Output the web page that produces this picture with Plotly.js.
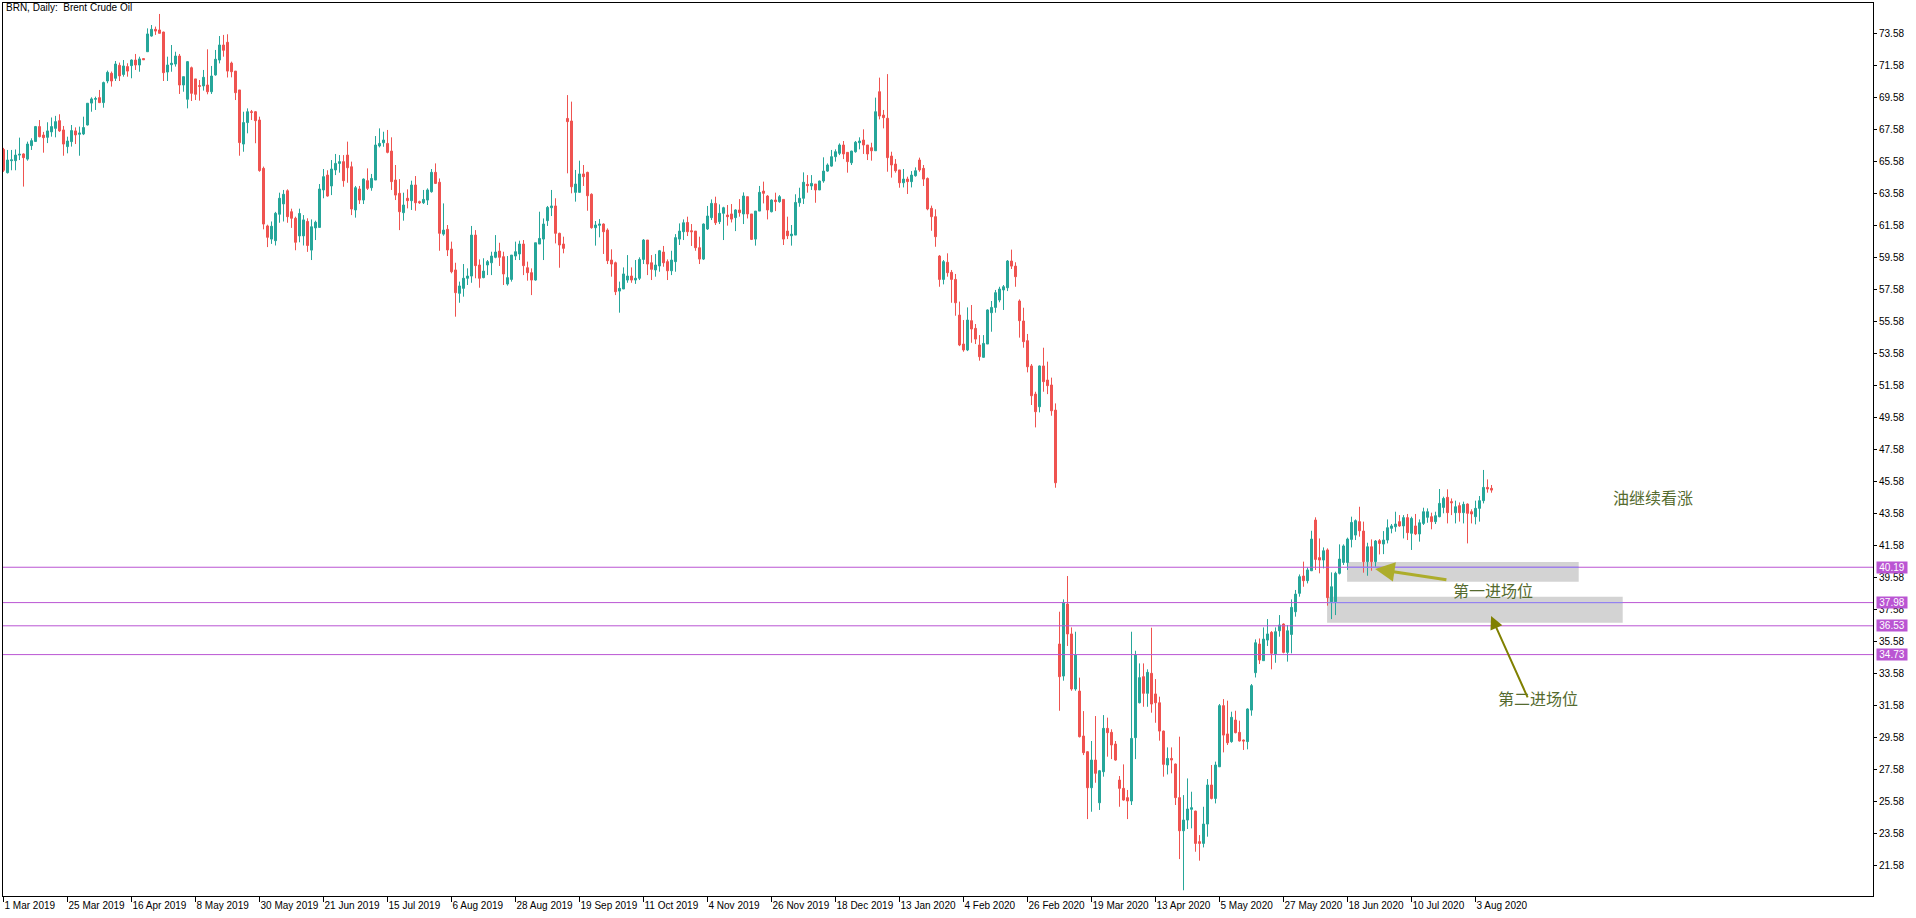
<!DOCTYPE html>
<html><head><meta charset="utf-8">
<script src="https://cdn.plot.ly/plotly-3.0.1.min.js"></script>
<style>html,body{margin:0;padding:0;background:#fff;overflow:hidden}#chart{width:1916px;height:918px}</style>
</head><body><div id="chart"></div>
<script>
// Daily bars, Mar 2019 - Aug 2020 (one entry per trading day)
const opens = [
66.3,64.85,65.6,65.6,65.95,66.02,65.7,66.54,66.8,67.73,
67.2,67.06,67.4,67.62,68.1,67.52,66.48,66.79,67.46,67.25,
67.27,67.83,69.2,69.44,69.54,69.23,70.58,71.06,70.75,71.56,
70.99,71.48,71.54,71.89,71.58,71.98,72.41,73.39,73.81,73.77,
73.64,71.14,71.6,71.64,72.14,70.33,69.44,71.41,70.71,70.29,
70.27,70.33,69.91,70.96,71.89,72.83,73.0,71.7,71.2,70.02,
66.64,67.98,68.66,68.66,68.14,65.12,61.52,60.7,60.6,62.25,
62.9,63.72,62.41,62.0,60.9,60.9,61.8,60.01,61.4,61.43,
63.77,64.7,64.02,65.02,65.43,65.54,65.95,65.22,62.52,63.83,
63.14,64.35,63.91,64.39,66.52,66.72,66.68,66.2,64.39,63.56,
62.35,63.25,63.1,64.08,63.04,62.97,63.14,63.66,64.87,64.25,
61.01,61.31,60.08,58.77,57.31,57.62,58.25,58.39,60.95,59.08,
58.29,59.08,59.22,59.56,59.95,59.6,57.89,58.18,59.64,59.77,
60.39,58.91,58.6,58.14,60.39,60.7,61.85,62.66,62.77,61.06,
60.39,68.24,68.08,63.62,63.62,64.77,64.87,63.5,61.41,61.56,
61.64,61.26,59.39,59.22,57.45,57.58,58.14,58.39,58.14,58.25,
59.43,60.64,59.22,58.77,59.02,59.89,59.29,58.72,59.29,60.7,
61.16,61.74,61.22,61.2,60.16,59.45,61.33,62.04,62.93,61.79,
62.31,62.2,62.27,62.04,62.52,62.27,63.35,62.27,60.7,62.45,
63.7,63.39,62.41,63.14,63.04,63.18,61.2,60.91,60.95,62.97,
63.25,64.12,64.02,64.14,63.77,64.33,64.95,65.26,65.85,66.06,
66.58,66.12,65.47,66.16,66.72,66.89,66.58,66.41,66.22,69.91,
68.45,68.25,65.89,65.39,65.02,64.22,64.45,64.29,64.66,65.64,
65.12,64.49,62.62,62.1,59.64,58.18,59.25,58.62,58.18,55.95,
54.14,53.77,55.6,55.12,54.08,53.31,54.14,56.1,56.43,56.89,
57.52,57.66,59.33,59.01,56.83,55.58,54.35,52.77,51.01,50.22,
52.77,51.89,51.58,50.01,35.39,33.39,37.89,36.02,32.58,32.45,
29.64,28.66,26.41,28.14,25.47,27.41,30.12,29.87,29.14,26.89,
26.37,25.79,25.58,29.54,31.72,33.35,32.31,33.56,32.27,31.72,
29.95,27.83,28.24,27.89,25.79,23.72,24.39,25.06,24.95,23.04,
22.93,24.14,26.58,25.74,27.72,31.54,29.77,29.29,30.64,29.87,
29.39,29.29,31.26,33.6,35.39,34.35,35.64,36.12,34.77,36.22,
36.64,34.87,35.99,37.41,38.56,39.64,39.35,39.97,43.14,40.79,
40.64,41.27,38.04,38.04,39.81,40.49,40.49,41.93,42.2,43.04,
42.45,40.54,41.47,40.54,41.85,41.64,41.89,42.62,42.72,43.04,
42.77,43.29,42.31,42.77,42.27,42.93,43.31,43.35,43.04,43.35,
43.93,44.56,44.29,43.6,44.04,43.6,44.14,43.66,43.35,43.87,
44.35,45.18,45.12];
const highs = [
66.4,66.27,66.27,66.3,67.04,66.06,66.79,67.0,67.77,68.14,
67.4,68.0,68.3,68.4,68.5,67.77,67.1,67.83,67.68,67.73,
68.35,69.2,69.56,69.6,70.02,70.54,71.23,71.17,71.83,71.73,
71.89,71.69,71.93,72.27,72.1,72.0,73.87,74.08,73.98,74.77,
73.66,72.1,72.83,72.41,72.27,70.85,71.83,71.48,70.71,70.64,
71.27,72.56,71.52,72.52,73.39,73.46,73.5,71.79,71.2,70.02,
68.66,68.87,68.77,68.7,68.35,65.23,61.6,61.8,62.4,63.6,
63.77,63.81,62.6,62.1,62.6,62.2,62.0,61.93,61.85,64.14,
65.08,65.0,65.64,66.02,65.95,65.95,66.79,65.54,64.02,64.02,
64.49,65.12,64.77,67.14,67.62,67.41,67.52,67.06,65.33,64.45,
63.6,63.81,64.35,64.64,63.1,63.77,63.87,65.08,65.43,64.49,
62.93,61.58,60.54,59.22,58.04,59.14,58.87,61.52,61.26,59.43,
59.5,59.39,59.91,60.95,60.47,59.91,59.64,59.7,60.54,60.6,
60.64,59.29,58.87,60.47,62.41,61.99,62.77,63.77,63.25,61.1,
60.85,69.7,69.29,65.02,65.6,65.33,64.91,63.56,61.83,61.95,
61.68,61.37,60.06,59.29,58.04,58.93,59.7,58.93,59.39,59.56,
60.7,60.64,59.7,59.77,60.02,60.27,59.43,59.97,61.01,61.68,
61.93,62.1,61.64,61.2,60.85,61.68,62.77,63.18,63.35,62.87,
62.72,62.83,62.89,62.56,63.2,63.62,63.35,62.27,62.45,64.02,
64.29,63.45,63.18,63.6,63.45,63.18,62.1,61.58,63.5,63.91,
64.87,64.7,64.7,64.14,64.35,65.81,65.43,66.27,66.31,66.68,
66.83,66.12,66.22,66.83,67.06,67.56,66.58,66.72,69.54,70.79,
68.77,71.01,66.16,65.7,65.02,65.08,64.6,64.95,65.18,65.79,
65.33,64.55,62.79,62.56,59.7,59.39,59.81,58.77,58.52,56.79,
55.64,56.43,56.58,55.39,54.7,54.7,56.31,56.83,57.52,57.72,
57.83,59.39,60.04,59.25,56.93,56.41,54.77,52.89,51.16,52.8,
53.91,53.04,52.04,50.43,37.41,38.18,39.64,36.43,36.16,33.29,
31.2,28.7,29.33,30.89,27.52,30.95,30.79,30.06,29.33,27.14,
27.87,26.27,36.16,34.97,34.18,34.18,33.81,36.41,33.2,32.1,
29.98,28.93,28.93,27.92,29.6,25.95,26.99,26.16,24.97,23.45,
25.22,26.95,27.83,28.04,31.64,31.95,31.85,31.16,31.22,30.6,
29.42,31.37,32.89,35.68,35.74,36.43,36.95,36.2,36.43,37.2,
36.68,36.58,38.18,38.77,39.74,40.54,40.18,42.47,43.31,41.99,
41.43,41.37,39.87,39.91,41.62,41.62,42.04,43.35,43.18,43.97,
43.04,41.72,41.93,41.89,41.95,42.45,43.18,42.89,43.66,43.45,
43.45,43.52,43.35,43.52,43.18,43.91,43.87,43.6,43.66,45.08,
44.6,45.06,44.49,44.35,44.24,44.29,44.18,43.81,44.35,44.64,
46.27,45.68,45.33];
const lows = [
64.9,64.8,65.0,65.0,65.64,63.98,65.6,66.27,66.8,67.06,
66.1,66.7,67.1,67.06,67.4,65.91,66.06,66.48,66.64,65.91,
67.2,67.8,68.66,68.77,69.2,68.91,70.44,70.23,70.58,70.58,
70.85,70.85,70.75,71.27,71.16,71.9,72.4,73.35,73.46,73.56,
70.58,70.58,71.16,71.48,69.77,69.91,68.87,69.33,69.39,69.35,
69.98,69.75,69.77,70.91,71.68,72.1,70.8,70.81,69.39,65.91,
66.16,67.31,68.14,66.69,64.91,61.31,60.2,60.4,60.3,61.72,
61.8,61.72,61.4,60.0,60.5,60.3,59.9,59.39,60.64,61.43,
63.25,63.35,63.45,64.7,64.85,63.97,64.22,62.2,62.04,62.89,
62.89,63.77,63.72,64.39,66.43,66.47,66.06,63.77,63.14,61.26,
61.85,62.62,62.52,62.47,62.9,62.89,62.83,63.6,64.14,59.97,
60.91,59.64,58.56,55.85,56.72,57.1,57.83,57.97,58.25,57.66,
58.25,58.45,58.45,59.5,59.02,57.83,57.79,58.04,59.39,59.39,
58.45,58.1,57.2,58.1,60.39,59.39,61.52,62.14,60.43,58.91,
59.81,64.81,63.56,63.04,63.6,64.02,62.47,61.35,60.29,60.81,
59.77,59.14,58.35,57.2,56.1,57.58,57.97,57.97,57.9,58.14,
59.14,58.45,58.14,58.35,58.66,58.97,58.14,58.45,58.66,60.33,
60.64,60.89,60.27,59.97,59.14,59.39,61.27,61.89,61.58,61.64,
60.64,61.54,61.74,61.2,62.1,61.64,61.99,60.64,60.29,62.45,
62.93,61.93,62.37,62.45,62.97,60.33,60.7,60.29,60.95,62.72,
62.89,63.6,63.77,62.97,63.77,64.22,64.91,65.22,65.54,65.95,
65.7,64.85,65.33,66.1,66.31,66.02,65.64,65.6,66.22,68.18,
67.62,64.91,64.54,64.85,63.91,63.93,63.52,63.93,64.6,64.91,
64.02,62.5,61.22,60.22,57.72,57.87,58.35,56.72,55.91,54.01,
53.66,53.7,54.22,54.14,53.1,53.29,54.14,54.91,56.1,56.75,
56.27,57.45,58.83,57.72,54.54,53.91,52.37,50.33,48.93,49.87,
51.16,51.01,49.66,45.16,31.22,33.1,35.27,32.47,32.47,29.55,
28.45,24.45,24.91,26.72,25.02,27.1,28.35,28.2,28.1,25.22,
25.6,24.45,25.33,28.2,31.68,31.47,31.47,31.1,30.47,29.35,
27.1,27.24,27.31,25.33,21.95,20.0,23.83,23.87,22.41,21.85,
22.68,23.35,25.68,25.43,27.7,28.62,29.08,29.22,29.81,29.3,
28.77,28.81,30.91,33.3,34.14,34.35,35.27,33.81,34.22,35.85,
34.81,34.29,34.81,37.1,38.35,38.97,39.18,39.95,40.02,39.81,
40.12,37.79,36.95,37.2,39.74,40.33,40.02,41.43,41.89,42.1,
39.85,39.66,39.97,40.22,40.99,41.01,41.68,42.31,42.41,42.72,
41.99,41.89,41.27,42.2,41.79,42.83,42.97,42.56,42.89,43.31,
43.56,42.93,43.45,42.93,43.04,42.93,41.68,42.93,42.87,43.04,
44.18,44.85,44.85];
const closes = [
65.0,65.64,65.65,65.95,66.0,65.79,66.64,66.85,67.73,67.1,
67.04,67.46,67.73,68.04,67.46,66.64,66.83,67.48,67.21,67.33,
67.67,69.19,69.46,69.48,69.23,70.48,71.12,70.58,71.64,70.9,
71.52,71.2,71.89,71.58,71.96,71.91,73.52,73.81,73.7,73.56,
71.1,71.58,71.69,72.14,70.33,70.85,71.79,69.81,69.75,70.25,
70.81,69.91,70.89,71.94,72.83,72.5,71.2,71.16,69.85,66.73,
67.98,68.66,68.62,68.1,64.98,61.64,60.81,61.5,62.31,63.25,
63.5,62.1,62.0,60.5,62.3,61.9,60.3,61.47,61.75,63.83,
64.6,63.39,65.08,65.43,65.54,64.35,65.16,62.58,63.91,63.14,
64.45,63.87,64.49,66.58,66.68,66.89,66.12,64.29,63.45,62.41,
62.83,63.1,64.08,62.97,62.97,63.18,63.77,64.87,64.18,61.06,
61.26,60.02,58.66,57.35,57.77,58.25,58.39,60.95,59.04,58.25,
58.7,59.29,59.64,59.89,59.56,58.52,58.29,59.7,59.91,60.39,
59.04,58.6,58.14,60.47,60.74,61.64,62.68,62.77,61.06,60.33,
60.12,68.04,63.97,64.14,64.77,64.6,63.41,61.41,61.58,61.64,
61.16,59.35,59.14,57.41,57.62,58.52,58.39,58.14,58.25,59.43,
60.64,59.14,58.81,59.08,59.97,59.22,58.72,59.39,60.79,61.2,
61.72,61.16,61.16,60.16,59.45,61.64,62.14,62.93,61.72,62.31,
62.66,62.1,61.95,62.52,62.35,63.39,62.27,60.68,62.45,63.62,
63.56,62.52,63.14,63.04,63.35,60.7,60.91,61.01,62.99,63.25,
64.25,64.04,64.18,63.77,64.33,64.95,65.33,65.85,66.16,66.58,
66.02,65.54,66.2,66.75,66.83,66.58,66.02,66.22,68.66,68.39,
68.29,65.79,65.33,64.97,64.22,64.45,64.29,64.7,64.97,65.02,
64.45,62.58,62.1,60.85,58.18,59.29,58.6,58.18,56.72,54.08,
53.77,55.64,55.08,54.45,53.35,54.18,56.27,56.43,57.35,57.58,
57.72,59.33,59.01,58.35,55.6,54.29,52.72,50.91,49.91,52.77,
51.79,51.54,49.97,45.47,33.35,37.99,36.02,32.58,34.7,29.6,
28.6,26.41,28.14,27.31,27.47,30.12,29.85,29.08,28.14,26.37,
25.64,25.58,29.49,34.7,33.29,32.31,33.62,31.64,31.72,29.95,
27.87,28.24,28.14,25.79,23.72,24.39,25.08,25.16,22.93,22.93,
24.14,26.58,25.74,27.83,31.54,29.7,29.22,30.81,29.85,29.33,
29.33,31.33,32.79,35.47,34.39,35.7,36.02,34.81,36.16,36.58,
34.87,36.22,37.68,38.51,39.6,39.35,40.02,41.95,40.68,40.64,
41.22,38.29,38.97,39.81,40.7,41.52,41.95,42.99,43.1,42.47,
40.54,41.47,40.54,41.83,41.68,41.89,42.66,42.77,42.89,42.77,
43.29,42.35,43.24,42.27,42.97,43.66,43.66,43.04,43.41,44.18,
44.49,43.6,44.22,43.97,43.6,44.12,43.56,43.52,43.87,44.35,
45.18,45.08,45.01];

// date labels, one every 16 bars
const xTickLabels = ['1 Mar 2019','25 Mar 2019','16 Apr 2019','8 May 2019','30 May 2019','21 Jun 2019',
  '15 Jul 2019','6 Aug 2019','28 Aug 2019','19 Sep 2019','11 Oct 2019','4 Nov 2019','26 Nov 2019',
  '18 Dec 2019','13 Jan 2020','4 Feb 2020','26 Feb 2020','19 Mar 2020','13 Apr 2020','5 May 2020',
  '27 May 2020','18 Jun 2020','10 Jul 2020','3 Aug 2020'];
const yTickVals = [21.58,23.58,25.58,27.58,29.58,31.58,33.58,35.58,37.58,39.58,41.58,43.58,45.58,
  47.58,49.58,51.58,53.58,55.58,57.58,59.58,61.58,63.58,65.58,67.58,69.58,71.58,73.58];

// horizontal price levels
const levels = [40.19, 37.98, 36.53, 34.73];

// entry zones (bar index start/end, price low/high)
const zoneX0 = [335.9, 330.9];
const zoneX1 = [393.8, 404.8];
const zoneY0 = [39.28, 36.72];
const zoneY1 = [40.52, 38.35];

// notes
const noteText = ['油继续看涨', '第一进场位', '第二进场位'];
const noteX = [412.4, 372.4, 383.7];
const noteY = [44.58, 38.77, 32.02];
// arrows: head (x,y) and tail (ax,ay)
const arrowX = [342.9, 371.9];
const arrowY = [40.08, 37.14];
const arrowAX = [361.1, 381.2];
const arrowAY = [39.39, 31.96];

const LEVEL_COLOR = '#ba55d3';
const BASE_FONT = 'Liberation Sans, Arial, sans-serif';
const CJK_FONT = 'Noto Sans CJK SC, sans-serif';

const idx = closes.map((_, i) => i);
const xTickVals = xTickLabels.map((_, k) => k * 16);

const trace = {
  type: 'candlestick', x: idx, open: opens, high: highs, low: lows, close: closes,
  increasing: {line: {color: '#26a69a', width: 1}, fillcolor: '#26a69a'},
  decreasing: {line: {color: '#ef5350', width: 1}, fillcolor: '#ef5350'},
  whiskerwidth: 0, hoverinfo: 'skip', showlegend: false
};

const shapes = [];
for (let k = 0; k < zoneX0.length; k++) {
  shapes.push({type: 'rect', layer: 'below', xref: 'x', yref: 'y',
    x0: zoneX0[k], x1: zoneX1[k], y0: zoneY0[k], y1: zoneY1[k],
    fillcolor: '#d3d3d3', line: {width: 0}});
}
levels.forEach(v => shapes.push({type: 'line', xref: 'paper', x0: 0, x1: 1, yref: 'y', y0: v, y1: v,
  line: {color: LEVEL_COLOR, width: 1}}));
// level segments seen through the zones
shapes.push({type: 'line', xref: 'x', x0: zoneX0[0], x1: zoneX1[0], yref: 'y', y0: levels[0], y1: levels[0], line: {color: '#8f86f4', width: 1}});
shapes.push({type: 'line', xref: 'x', x0: zoneX0[1], x1: zoneX1[1], yref: 'y', y0: levels[1], y1: levels[1], line: {color: '#8f86f4', width: 1}});

const annotations = [];
levels.forEach(v => annotations.push({
  xref: 'paper', x: 1, xanchor: 'left', xshift: 3, yref: 'y', y: v, yanchor: 'middle',
  text: v.toFixed(2), showarrow: false, bgcolor: LEVEL_COLOR, borderpad: 0,
  width: 30, height: 11, align: 'center',
  font: {family: BASE_FONT, size: 10, color: '#ffffff'}
}));
noteText.forEach((t, k) => annotations.push({
  xref: 'x', yref: 'y', x: noteX[k], y: noteY[k], text: t, showarrow: false,
  font: {family: CJK_FONT, size: 16, color: '#556b2f'}
}));
const arrowColors = ['#adad2c', '#808000'];
const arrowWidths = [3, 2];
arrowX.forEach((x, k) => annotations.push({
  xref: 'x', yref: 'y', x: x, y: arrowY[k], axref: 'x', ayref: 'y', ax: arrowAX[k], ay: arrowAY[k],
  text: '', showarrow: true, arrowhead: 2, arrowsize: 1.3, arrowwidth: arrowWidths[k],
  arrowcolor: arrowColors[k], standoff: 0, startstandoff: 0
}));

const layout = {
  width: 1916, height: 918,
  margin: {l: 3, r: 43, t: 3, b: 22, pad: 0},
  paper_bgcolor: '#ffffff', plot_bgcolor: '#ffffff',
  showlegend: false, hovermode: false,
  boxgap: 0.5, boxgroupgap: 0,
  title: {text: 'BRN, Daily:\u00a0 Brent Crude Oil', xref: 'container', x: 6 / 1916, xanchor: 'left',
    yref: 'container', y: 1 - 4 / 918, yanchor: 'top', pad: {t: 0, b: 0, l: 0, r: 0},
    font: {family: BASE_FONT, size: 10, color: '#000000'}},
  xaxis: {type: 'linear', range: [-0.125, 467.375], rangeslider: {visible: false},
    showgrid: false, zeroline: false, showline: true, mirror: true, linecolor: '#000', linewidth: 1,
    ticks: 'outside', ticklen: 5, tickwidth: 1, tickcolor: '#000', tickangle: 0,
    tickmode: 'array', tickvals: xTickVals, ticktext: xTickLabels, ticklabelposition: 'outside right',
    tickfont: {family: BASE_FONT, size: 10, color: '#000'}, fixedrange: true},
  yaxis: {side: 'right', range: [19.6425, 75.455], showgrid: false, zeroline: false,
    showline: true, mirror: true, linecolor: '#000', linewidth: 1,
    ticks: 'outside', ticklen: 3, tickwidth: 1, tickcolor: '#000',
    tickmode: 'array', tickvals: yTickVals, ticktext: yTickVals.map(v => v.toFixed(2)),
    tickfont: {family: BASE_FONT, size: 10, color: '#000'}, fixedrange: true},
  shapes: shapes,
  annotations: annotations
};

Plotly.newPlot('chart', [trace], layout, {staticPlot: true, displayModeBar: false});
</script>
</body></html>
